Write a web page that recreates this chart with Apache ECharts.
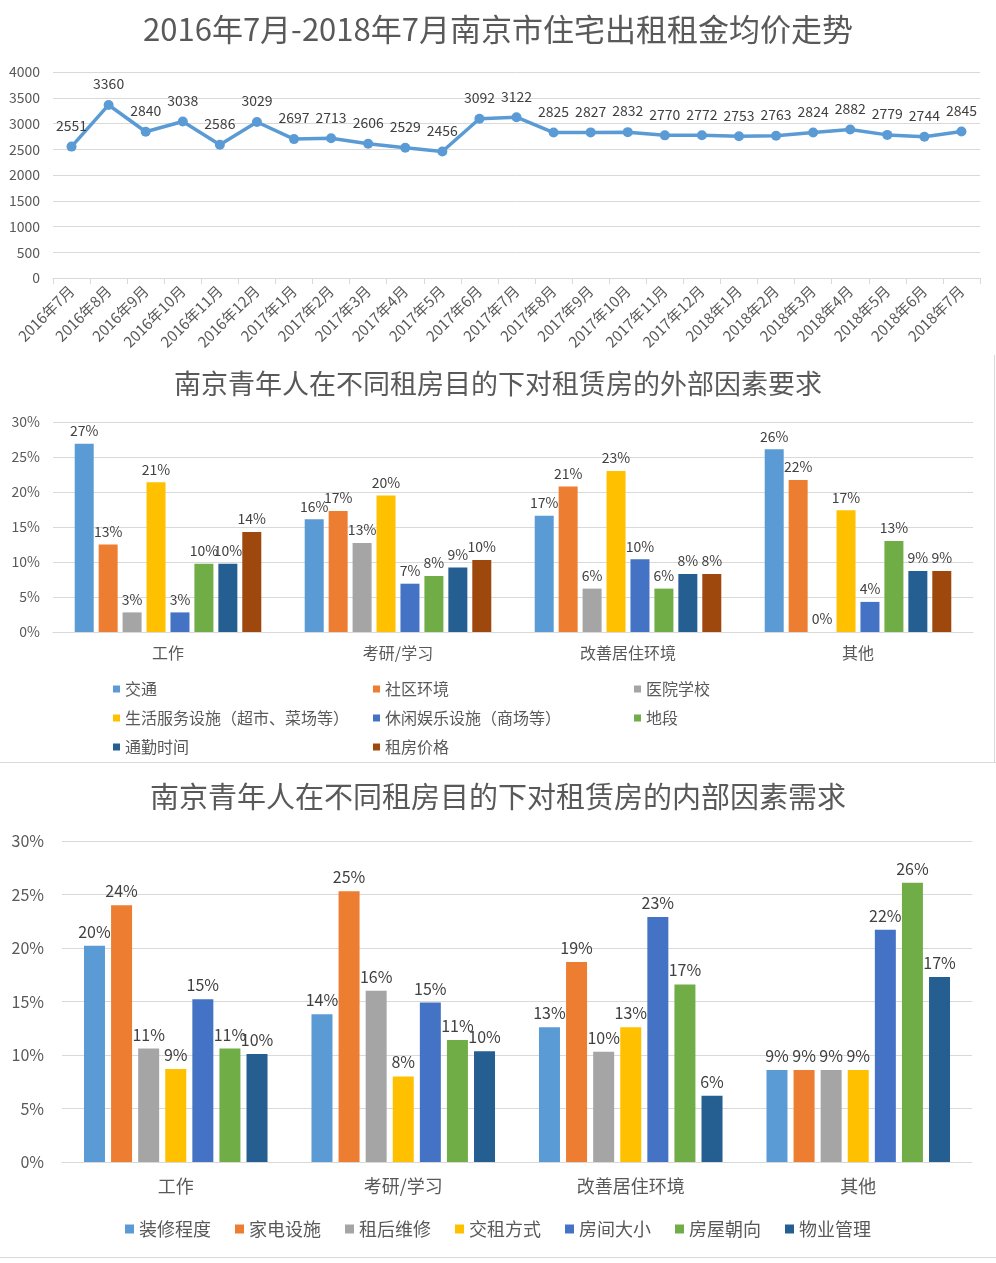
<!DOCTYPE html>
<html>
<head>
<meta charset="utf-8">
<title>南京市住宅租金与租房需求</title>
<script src="https://cdn.jsdelivr.net/npm/echarts@6/dist/echarts.min.js"></script>
<style>
  html, body { margin: 0; padding: 0; background: #fff; }
  #main { width: 996px; height: 1263px; }
</style>
</head>
<body>
<div id="main"></div>
<script>
// 租金走势
var months = ['2016年7月', '2016年8月', '2016年9月', '2016年10月', '2016年11月', '2016年12月',
  '2017年1月', '2017年2月', '2017年3月', '2017年4月', '2017年5月', '2017年6月', '2017年7月',
  '2017年8月', '2017年9月', '2017年10月', '2017年11月', '2017年12月', '2018年1月', '2018年2月',
  '2018年3月', '2018年4月', '2018年5月', '2018年6月', '2018年7月'];
var rentPrice = [2551, 3360, 2840, 3038, 2586, 3029, 2697, 2713, 2606, 2529, 2456, 3092, 3122,
  2825, 2827, 2832, 2770, 2772, 2753, 2763, 2824, 2882, 2779, 2744, 2845];

// 租房目的
var purposes = ['工作', '考研/学习', '改善居住环境', '其他'];

// 外部因素（%）
var extNames = ['交通', '社区环境', '医院学校', '生活服务设施（超市、菜场等）',
  '休闲娱乐设施（商场等）', '地段', '通勤时间', '租房价格'];
var extTraffic = [26.9, 16.1, 16.6, 26.1];
var extCommunity = [12.5, 17.3, 20.8, 21.7];
var extHospital = [2.8, 12.7, 6.2, 0];
var extService = [21.4, 19.5, 23.0, 17.4];
var extLeisure = [2.8, 6.9, 10.4, 4.3];
var extLocation = [9.75, 8.0, 6.2, 13.0];
var extCommute = [9.75, 9.2, 8.3, 8.7];
var extRent = [14.3, 10.3, 8.3, 8.7];
var extData = [extTraffic, extCommunity, extHospital, extService, extLeisure, extLocation, extCommute, extRent];

// 内部因素（%）
var intNames = ['装修程度', '家电设施', '租后维修', '交租方式', '房间大小', '房屋朝向', '物业管理'];
var intDecor = [20.2, 13.8, 12.6, 8.6];
var intAppliance = [24.0, 25.3, 18.7, 8.6];
var intRepair = [10.6, 16.0, 10.3, 8.6];
var intPayment = [8.7, 8.0, 12.6, 8.6];
var intRoomSize = [15.2, 14.9, 22.9, 21.7];
var intOrientation = [10.6, 11.4, 16.6, 26.1];
var intProperty = [10.1, 10.35, 6.2, 17.3];
var intData = [intDecor, intAppliance, intRepair, intPayment, intRoomSize, intOrientation, intProperty];

var extColors = ['#5b9bd5', '#ed7d31', '#a5a5a5', '#ffc000', '#4472c4', '#70ad47', '#255e91', '#9e480e'];
var intColors = ['#5b9bd5', '#ed7d31', '#a5a5a5', '#ffc000', '#4472c4', '#70ad47', '#255e91'];

var font = 'Noto Sans CJK SC';
var gridColor = '#d9d9d9';

function pctLabel(p) {
  return Math.round(p.value) + '%';
}

var series = [{
  name: '均价',
  type: 'line',
  xAxisIndex: 0,
  yAxisIndex: 0,
  data: rentPrice,
  symbol: 'circle',
  symbolSize: 10,
  lineStyle: { color: '#5b9bd5', width: 3.5 },
  itemStyle: { color: '#5b9bd5' },
  label: { show: true, position: 'top', distance: 9, color: '#404040', fontSize: 14, fontFamily: font }
}];

extNames.forEach(function (name, i) {
  series.push({
    name: name,
    type: 'bar',
    xAxisIndex: 1,
    yAxisIndex: 1,
    data: extData[i],
    barWidth: 19,
    barGap: '26%',
    itemStyle: { color: extColors[i] },
    label: { show: true, position: 'top', distance: 6, color: '#404040', fontSize: 14,
      fontFamily: font, formatter: pctLabel }
  });
});

intNames.forEach(function (name, i) {
  series.push({
    name: name,
    type: 'bar',
    xAxisIndex: 2,
    yAxisIndex: 2,
    data: intData[i],
    barWidth: 21,
    barGap: '29%',
    itemStyle: { color: intColors[i] },
    label: { show: true, position: 'top', distance: 6, color: '#404040', fontSize: 16,
      fontFamily: font, formatter: pctLabel }
  });
});

var legendText = { color: '#595959', fontSize: 16, fontFamily: font };
function extLegend(names, left) {
  return {
    data: names,
    orient: 'vertical',
    left: left,
    top: 676,
    itemWidth: 7,
    itemHeight: 7,
    itemGap: 13,
    icon: 'rect',
    textStyle: legendText
  };
}

var chart = echarts.init(document.getElementById('main'));
chart.setOption({
  backgroundColor: '#fff',
  animation: false,
  textStyle: { fontFamily: font },
  title: [
    { text: '2016年7月-2018年7月南京市住宅出租租金均价走势', left: 'center', top: 9,
      textStyle: { fontSize: 31, fontWeight: 'normal', color: '#595959', fontFamily: font } },
    { text: '南京青年人在不同租房目的下对租赁房的外部因素要求', left: 'center', top: 365,
      textStyle: { fontSize: 27, fontWeight: 'normal', color: '#595959', fontFamily: font } },
    { text: '南京青年人在不同租房目的下对租赁房的内部因素需求', left: 'center', top: 777,
      textStyle: { fontSize: 29, fontWeight: 'normal', color: '#595959', fontFamily: font } }
  ],
  legend: [
    extLegend([extNames[0], extNames[3], extNames[6]], 108),
    extLegend([extNames[1], extNames[4], extNames[7]], 368),
    extLegend([extNames[2], extNames[5]], 629),
    {
      data: intNames,
      left: 'center',
      top: 1215,
      itemWidth: 9,
      itemHeight: 9,
      itemGap: 24,
      icon: 'rect',
      textStyle: { color: '#595959', fontSize: 18, fontFamily: font }
    }
  ],
  grid: [
    { left: 53, top: 72, width: 927, height: 206 },
    { left: 53, top: 422, width: 920, height: 210 },
    { left: 62, top: 841, width: 910, height: 321 }
  ],
  xAxis: [
    {
      type: 'category', gridIndex: 0, data: months,
      axisLine: { lineStyle: { color: gridColor } },
      axisTick: { show: true, length: 6, lineStyle: { color: gridColor } },
      axisLabel: { rotate: 45, color: '#595959', fontSize: 15, margin: 10, interval: 0, fontFamily: font }
    },
    {
      type: 'category', gridIndex: 1, data: purposes,
      axisLine: { lineStyle: { color: gridColor } },
      axisTick: { show: false },
      axisLabel: { color: '#595959', fontSize: 16, margin: 13, fontFamily: font }
    },
    {
      type: 'category', gridIndex: 2, data: purposes,
      axisLine: { lineStyle: { color: gridColor } },
      axisTick: { show: false },
      axisLabel: { color: '#595959', fontSize: 18, margin: 15, fontFamily: font }
    }
  ],
  yAxis: [
    {
      type: 'value', gridIndex: 0, min: 0, max: 4000, interval: 500,
      axisLine: { show: false }, axisTick: { show: false },
      splitLine: { lineStyle: { color: gridColor } },
      axisLabel: { color: '#595959', fontSize: 14, margin: 13, fontFamily: font,
        formatter: function (v) { return String(v); } }
    },
    {
      type: 'value', gridIndex: 1, min: 0, max: 30, interval: 5,
      axisLine: { show: false }, axisTick: { show: false },
      splitLine: { lineStyle: { color: gridColor } },
      axisLabel: { color: '#595959', fontSize: 14, margin: 13, formatter: '{value}%', fontFamily: font }
    },
    {
      type: 'value', gridIndex: 2, min: 0, max: 30, interval: 5,
      axisLine: { show: false }, axisTick: { show: false },
      splitLine: { lineStyle: { color: gridColor } },
      axisLabel: { color: '#595959', fontSize: 16, margin: 18, formatter: '{value}%', fontFamily: font }
    }
  ],
  graphic: [
    { type: 'line', shape: { x1: 994.5, y1: 355, x2: 994.5, y2: 762 }, style: { stroke: '#d9d9d9', lineWidth: 1 } },
    { type: 'line', shape: { x1: 0, y1: 762.5, x2: 996, y2: 762.5 }, style: { stroke: '#d9d9d9', lineWidth: 1 } },
    { type: 'line', shape: { x1: 0, y1: 1257.5, x2: 996, y2: 1257.5 }, style: { stroke: '#d9d9d9', lineWidth: 1 } }
  ],
  series: series
});
</script>
</body>
</html>
